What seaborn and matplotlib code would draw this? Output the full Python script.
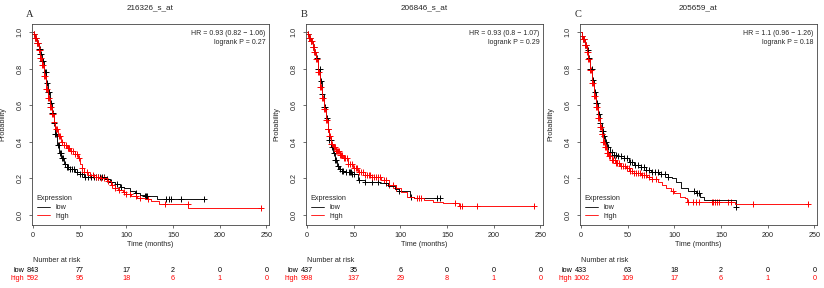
import numpy as np
import matplotlib
matplotlib.use("Agg")
import matplotlib.pyplot as plt
import matplotlib.transforms as mtransforms
from matplotlib.lines import Line2D
import seaborn as sns

# ---- panel A: 216326_s_at ----
a_low_t = [0, 1, 2, 4, 6, 8, 10, 12, 14, 16, 18, 20, 22, 24, 26, 28, 30, 33, 36, 40, 45, 50, 55, 62,
           70, 77, 83, 88, 93, 98, 104, 109, 115, 120, 133, 185]
a_low_s = [1.0, 0.99, 0.97, 0.94, 0.91, 0.88, 0.84, 0.78, 0.72, 0.67, 0.61, 0.56, 0.50, 0.44, 0.38, 0.34,
           0.31, 0.28, 0.26, 0.25, 0.235, 0.222, 0.21, 0.207, 0.205, 0.195, 0.18, 0.17, 0.155, 0.145,
           0.13, 0.118, 0.11, 0.105, 0.087, 0.087]
a_low_cens = [1.5, 2.5, 3.5, 4.5, 5.5, 6.5, 7, 8, 9, 10, 11, 12.5, 13.5, 14.5, 16, 17, 18, 19.5, 20.5,
              21.5, 22.5, 24, 25, 26.5, 27.5, 28.5, 29.5, 31, 32, 34, 36, 38, 40, 42, 44, 47, 50, 53,
              56, 59, 62, 65, 68, 70, 72, 74, 76, 79, 84, 90, 94.7, 110.7, 120, 121, 122.5, 142.8,
              145.3, 148, 158.8, 183.8]
a_high_t = [0, 1, 2, 4, 6, 8, 10, 12, 14, 16, 18, 20, 22, 24, 27, 30, 33, 36, 40, 45, 48, 50, 52, 55,
            59, 65, 73, 79, 84, 88, 91, 96, 100, 105, 111, 120, 127, 135, 166, 244]
a_high_s = [1.0, 0.99, 0.97, 0.94, 0.90, 0.86, 0.82, 0.76, 0.69, 0.64, 0.59, 0.55, 0.51, 0.47, 0.43,
            0.40, 0.38, 0.365, 0.35, 0.335, 0.31, 0.28, 0.255, 0.235, 0.22, 0.21, 0.20, 0.185, 0.165,
            0.15, 0.137, 0.125, 0.115, 0.105, 0.095, 0.085, 0.075, 0.06, 0.04, 0.04]
a_high_cens = [1, 2, 3, 4, 5, 6, 7, 8, 9, 10, 11, 12, 13, 14, 15, 16, 17, 18, 19, 20, 21.5, 23, 24.5,
               26, 27.5, 29, 31, 33, 35, 37, 39, 41, 43, 45, 47, 49, 52, 55, 58, 61, 64, 67, 70, 73,
               76, 80, 85, 88, 92, 97, 100, 104, 110, 115, 123, 141.7, 165.6, 244]
a_risk_low = [843, 77, 17, 2, 0, 0]
a_risk_high = [592, 95, 18, 6, 1, 0]

# ---- panel B: 206846_s_at ----
b_low_t = [0, 1, 2, 4, 6, 8, 10, 12, 14, 16, 18, 20, 22, 24, 26, 28, 30, 32, 34, 37, 41, 48, 55, 62,
           78, 87, 94, 99, 110, 115, 143]
b_low_s = [1.0, 0.99, 0.97, 0.95, 0.92, 0.89, 0.86, 0.80, 0.73, 0.66, 0.59, 0.53, 0.47, 0.41, 0.37,
           0.34, 0.30, 0.27, 0.25, 0.24, 0.235, 0.225, 0.19, 0.182, 0.175, 0.16, 0.14, 0.133, 0.10,
           0.092, 0.092]
b_low_cens = [1, 2, 3, 4.5, 6, 7.5, 9, 10.5, 12, 13.5, 15, 16.5, 18, 19.5, 21, 22.5, 24, 25.5, 27,
              28.5, 30, 31.5, 33, 35, 37, 39, 42, 45, 46, 47, 48, 50, 56, 62, 70, 76, 85, 99, 111.3,
              139.6, 143]
b_high_t = [0, 1, 2, 4, 6, 8, 10, 12, 14, 16, 18, 20, 22, 24, 26, 28, 31, 35, 39, 44, 49, 55, 62, 70,
            79, 88, 95, 101, 107, 115, 125, 135, 146, 163, 243]
b_high_s = [1.0, 0.99, 0.97, 0.95, 0.92, 0.89, 0.85, 0.78, 0.70, 0.64, 0.58, 0.52, 0.47, 0.43, 0.39,
            0.37, 0.35, 0.33, 0.31, 0.28, 0.255, 0.235, 0.22, 0.205, 0.19, 0.164, 0.145, 0.127, 0.10,
            0.09, 0.082, 0.072, 0.064, 0.049, 0.049]
b_high_cens = [1, 2, 3, 4, 5, 6, 7, 8, 9, 10, 11, 12, 13, 14, 15, 16, 17, 18, 19, 20, 21, 22, 23, 24,
               25, 26, 27, 28, 29, 30, 31, 32, 33, 34, 35, 36.5, 38, 39.5, 41, 42.5, 44, 46, 48, 50,
               52, 54, 56, 58, 60, 62, 64, 66, 68, 70, 72, 74, 76, 78, 82, 85, 88, 92, 95, 118,
               120, 122, 159, 164, 166, 182, 243]
b_risk_low = [437, 35, 6, 0, 0, 0]
b_risk_high = [998, 137, 29, 8, 1, 0]

# ---- panel C: 205659_at ----
c_low_t = [0, 1, 2, 4, 6, 8, 10, 12, 14, 16, 18, 20, 22, 24, 26, 28, 31, 35, 40, 46, 51, 57, 64, 70,
           75, 84, 93, 97, 102, 107, 115, 123, 128, 132, 166, 168]
c_low_s = [1.0, 0.98, 0.96, 0.93, 0.90, 0.86, 0.80, 0.74, 0.67, 0.61, 0.55, 0.50, 0.46, 0.43, 0.40,
           0.37, 0.345, 0.33, 0.32, 0.31, 0.29, 0.273, 0.26, 0.245, 0.237, 0.225, 0.21, 0.20, 0.182,
           0.146, 0.13, 0.118, 0.10, 0.08, 0.045, 0.045]
c_low_cens = [1, 2, 3, 4, 5.5, 7, 8.5, 10, 11.5, 13, 14.5, 16, 17.5, 19, 20.5, 22, 23.5, 25, 27, 29,
              31, 33, 35, 37, 40, 43, 46, 49, 52, 55, 58, 61, 64, 67, 70, 73, 76, 79, 82, 86, 90,
              93, 121, 124, 126, 166]
c_high_t = [0, 1, 2, 4, 6, 8, 10, 12, 14, 16, 18, 20, 22, 24, 26, 28, 30, 33, 37, 42, 48, 53, 57, 64,
            71, 76, 82, 87, 91, 96, 100, 106, 111, 114, 165, 243]
c_high_s = [1.0, 0.98, 0.96, 0.93, 0.89, 0.85, 0.79, 0.72, 0.65, 0.59, 0.53, 0.48, 0.44, 0.40, 0.37,
            0.34, 0.32, 0.30, 0.285, 0.27, 0.255, 0.24, 0.232, 0.22, 0.21, 0.195, 0.18, 0.163, 0.146,
            0.13, 0.118, 0.10, 0.09, 0.073, 0.06, 0.06]
c_high_cens = [1, 2, 3, 4, 5, 6, 7, 8, 9, 10, 11, 12, 13, 14, 15, 16, 17, 18, 19, 20, 21, 22, 23, 24,
               25, 26, 27, 28, 29, 30, 31.5, 33, 34.5, 36, 37.5, 39, 41, 43, 45, 47, 49, 51, 53, 55,
               57, 59, 61, 63, 65, 67, 70, 73, 76, 80, 99, 115, 120, 123, 127, 140, 142, 144, 146,
               148, 158, 161, 184.7, 243]
c_risk_low = [433, 63, 18, 2, 0, 0]
c_risk_high = [1002, 109, 17, 6, 1, 0]

titles = ["216326_s_at", "206846_s_at", "205659_at"]
letters = ["A", "B", "C"]
hr_text = ["HR = 0.93 (0.82 \u2212 1.06)", "HR = 0.93 (0.8 \u2212 1.07)", "HR = 1.1 (0.96 \u2212 1.26)"]
p_text = ["logrank P = 0.27", "logrank P = 0.29", "logrank P = 0.18"]
risk_times = [0, 50, 100, 150, 200, 250]

panels = [
    (a_low_t, a_low_s, a_low_cens, a_high_t, a_high_s, a_high_cens, a_risk_low, a_risk_high),
    (b_low_t, b_low_s, b_low_cens, b_high_t, b_high_s, b_high_cens, b_risk_low, b_risk_high),
    (c_low_t, c_low_s, c_low_cens, c_high_t, c_high_s, c_high_cens, c_risk_low, c_risk_high),
]

sns.set_theme(style="ticks")
plt.rcParams['font.family'] = ['Liberation Sans', 'DejaVu Sans']
fs = 5.2
LOW, HIGH = "black", "#ff0000"

fig = plt.figure(figsize=(8.24, 2.88), dpi=100)
lefts = [31.6 / 824, 305.6 / 824, 579.6 / 824]
W, B, H = 237 / 824, 1 - 225 / 288, 201 / 288


def step_at(t, s, x):
    # survival value of the KM step at each censoring time
    idx = np.searchsorted(t, x, side='right') - 1
    return np.asarray(s)[idx]


for i, (lt, ls, lc, ht, hs, hc, rl, rh) in enumerate(panels):
    ax = fig.add_axes([lefts[i], B, W, H])
    for t, s, c, col in [(lt, ls, lc, LOW), (ht, hs, hc, HIGH)]:
        sns.lineplot(x=t, y=s, ax=ax, color=col, lw=0.65, drawstyle='steps-post',
                     estimator=None, sort=False)
        sns.scatterplot(x=c, y=step_at(t, s, c), ax=ax, marker='+', color=col,
                        s=18, linewidth=0.7)

    ax.set_xlim(-1.5, 252.5)
    ax.set_ylim(-0.055, 1.044)
    ax.set_xticks(risk_times)
    ax.set_yticks([0.0, 0.2, 0.4, 0.6, 0.8, 1.0])
    ax.set_yticklabels(["0.0", "0.2", "0.4", "0.6", "0.8", "1.0"], rotation=90, va='center')
    ax.tick_params(labelsize=fs, length=2.2, width=0.5, color='#333333')
    ax.tick_params(axis='x', pad=3.0)
    ax.tick_params(axis='y', pad=3.5)
    for sp in ax.spines.values():
        sp.set_visible(True)
        sp.set_linewidth(0.6)
        sp.set_color('#444444')
    ax.set_xlabel("")
    ax.set_ylabel("Probability", fontsize=fs)
    ax.yaxis.set_label_coords(-0.108, 0.5)

    ax.text(0.5, 1.08, titles[i], transform=ax.transAxes, ha='center', va='center', fontsize=5.9)
    ax.text(-0.008, 1.045, letters[i], transform=ax.transAxes, ha='center', va='center',
            fontsize=7.5, family='Liberation Serif')
    ax.text(0.988, 0.954, hr_text[i], transform=ax.transAxes, ha='right', va='center', fontsize=5.0)
    ax.text(0.988, 0.907, p_text[i], transform=ax.transAxes, ha='right', va='center', fontsize=5.0)
    ax.text(0.5, -0.095, "Time (months)", transform=ax.transAxes, ha='center', va='center', fontsize=fs)

    handles = [Line2D([], [], color=LOW, lw=0.6), Line2D([], [], color=HIGH, lw=0.6)]
    ax.legend(handles, ["low", "high"], title="Expression", loc='lower left',
              bbox_to_anchor=(0.022, 0.025), frameon=False, fontsize=fs, title_fontsize=fs,
              borderpad=0, borderaxespad=0, handlelength=1.8, handletextpad=0.8,
              labelspacing=0.25, alignment='left')

    tr = mtransforms.blended_transform_factory(ax.transData, ax.transAxes)
    ax.text(0, -0.179, "Number at risk", transform=tr, ha='left', va='center', fontsize=fs)
    x0 = -9 * 254 / 237
    ax.text(x0, -0.224, "low", transform=tr, ha='right', va='center', fontsize=fs, color=LOW)
    ax.text(x0, -0.264, "high", transform=tr, ha='right', va='center', fontsize=fs, color=HIGH)
    for tt, nl, nh in zip(risk_times, rl, rh):
        ax.text(tt, -0.224, str(nl), transform=tr, ha='center', va='center', fontsize=fs, color=LOW)
        ax.text(tt, -0.264, str(nh), transform=tr, ha='center', va='center', fontsize=fs, color=HIGH)

fig.savefig("out.png", dpi=100)
